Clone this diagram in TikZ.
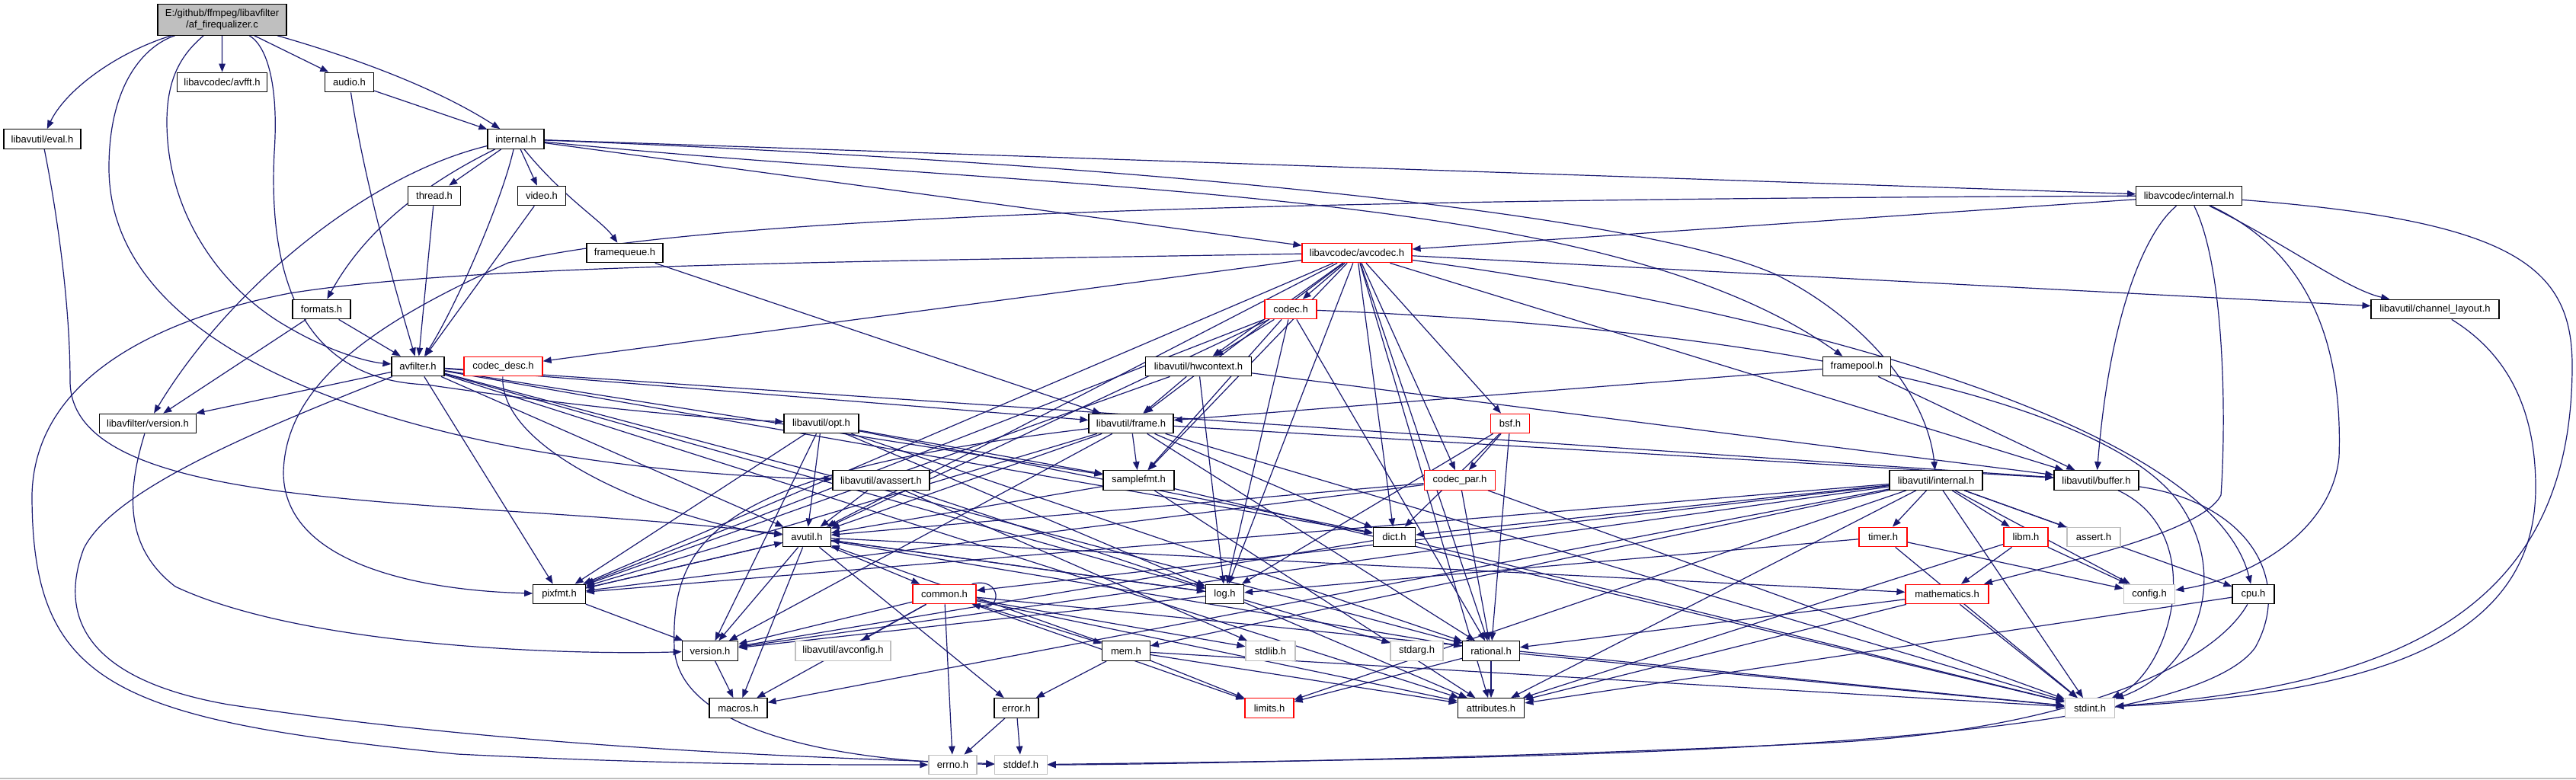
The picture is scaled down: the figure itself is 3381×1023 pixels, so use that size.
\documentclass[tikz,border=0pt]{standalone}
\usepackage{fontspec}
\setmainfont{Liberation Sans}
\usetikzlibrary{arrows.meta}
\pgfdeclarelayer{bg}
\pgfsetlayers{bg,main}
\definecolor{eblue}{HTML}{191970}
\definecolor{nred}{HTML}{FF0000}
\definecolor{ngray}{HTML}{BFBFBF}
\begin{document}
\begin{tikzpicture}[x=1pt,y=-1pt,
  font=\fontsize{13}{15}\selectfont,
  nb/.style={draw=black,line width=1.2pt,fill=white,minimum height=25.6pt,inner sep=0pt},
  nr/.style={nb,draw=nred},
  ng/.style={nb,draw=ngray},
  e/.style={draw=eblue,line width=1.2pt,-{Triangle[length=11pt,width=8.5pt]}}]
\useasboundingbox (0,0) rectangle (3381,1023);
% nodes
\node[nb,fill=ngray,align=center,minimum width=169pt,minimum height=40.3pt] (root) at (291.5,26) {E:/github/ffmpeg/libavfilter\\/af\_firequalizer.c};
\node[nb,minimum width=118pt] (avfft) at (291.6,108) {libavcodec/avfft.h};
\node[nb,minimum width=64pt] (audio) at (458.5,108) {audio.h};
\node[nb,minimum width=101pt] (eval) at (55.5,182.5) {libavutil/eval.h};
\node[nb,minimum width=74pt] (internal) at (677,182.5) {internal.h};
\node[nb,minimum width=69.5pt] (thread) at (570,257) {thread.h};
\node[nb,minimum width=62.5pt] (video) at (711,257) {video.h};
\node[nb,minimum width=138.6pt] (lavcint) at (2873,257) {libavcodec/internal.h};
\node[nb,minimum width=100pt] (fqueue) at (820,332) {framequeue.h};
\node[nr,minimum width=144pt] (avcodec) at (1781,332) {libavcodec/avcodec.h};
\node[nb,minimum width=76pt] (formats) at (422,406) {formats.h};
\node[nr,minimum width=68pt] (codec) at (1694,406) {codec.h};
\node[nb,minimum width=168pt] (chlayout) at (3196,406) {libavutil/channel\_layout.h};
\node[nb,minimum width=69pt] (avfilter) at (548.5,481) {avfilter.h};
\node[nr,minimum width=103pt] (cdesc) at (660.5,481) {codec\_desc.h};
\node[nb,minimum width=138.5pt] (hwctx) at (1573,481) {libavutil/hwcontext.h};
\node[nb,minimum width=89.5pt] (fpool) at (2437,481) {framepool.h};
\node[nb,minimum width=126.5pt] (lfver) at (194,556) {libavfilter/version.h};
\node[nb,minimum width=98pt] (opt) at (1078,556) {libavutil/opt.h};
\node[nb,minimum width=111pt] (frame) at (1484.5,556) {libavutil/frame.h};
\node[nr,minimum width=50.6pt] (bsf) at (1982,556) {bsf.h};
\node[nb,minimum width=127pt] (avassert) at (1156.5,630.5) {libavutil/avassert.h};
\node[nb,minimum width=93pt] (sfmt) at (1494.5,630.5) {samplefmt.h};
\node[nr,minimum width=93.6pt] (cpar) at (1916,630.5) {codec\_par.h};
\node[nb,minimum width=122pt] (luint) at (2541,630.5) {libavutil/internal.h};
\node[nb,minimum width=111pt] (buffer) at (2751.5,630.5) {libavutil/buffer.h};
\node[nb,minimum width=62.4pt] (avutil) at (1059,705) {avutil.h};
\node[nb,minimum width=55.3pt] (dict) at (1830,705) {dict.h};
\node[nr,minimum width=63pt] (timer) at (2471.5,705) {timer.h};
\node[nr,minimum width=58pt] (libm) at (2659,705) {libm.h};
\node[ng,minimum width=70pt] (assert) at (2748,705) {assert.h};
\node[nb,minimum width=68.5pt] (pixfmt) at (734,780) {pixfmt.h};
\node[nr,minimum width=83pt] (common) at (1239.5,780) {common.h};
\node[nb,minimum width=50pt] (log) at (1607.5,780) {log.h};
\node[nr,minimum width=109pt] (math) at (2555.5,780) {mathematics.h};
\node[ng,minimum width=67.4pt] (config) at (2821,780) {config.h};
\node[nb,minimum width=55pt] (cpu) at (2957.5,780) {cpu.h};
\node[nb,minimum width=73.6pt] (version) at (932,854.5) {version.h};
\node[ng,minimum width=125pt] (avconfig) at (1106.5,854.5) {libavutil/avconfig.h};
\node[nb,minimum width=62.5pt] (mem) at (1478,854.5) {mem.h};
\node[ng,minimum width=65pt] (stdlib) at (1667.5,854.5) {stdlib.h};
\node[ng,minimum width=69pt] (stdarg) at (1859.5,854.5) {stdarg.h};
\node[nb,minimum width=74.6pt] (rational) at (1957,854.5) {rational.h};
\node[nb,minimum width=76pt] (macros) at (969,929.5) {macros.h};
\node[nb,minimum width=58pt] (error) at (1334,929.5) {error.h};
\node[nr,minimum width=64pt] (limits) at (1666,929.5) {limits.h};
\node[nb,minimum width=87.6pt] (attrib) at (1957,929.5) {attributes.h};
\node[ng,minimum width=65.4pt] (stdint) at (2743,929.5) {stdint.h};
\node[ng,minimum width=63pt] (errno) at (1250.5,1004) {errno.h};
\node[ng,minimum width=68.3pt] (stddef) at (1340,1004) {stddef.h};
\draw[ngray,line width=2pt] (0,1022) -- (3381,1022);
\begin{pgfonlayer}{bg}
\fill[white] (0,0) rectangle (3381,1023);
% root
\draw[e] (root) .. controls (150,70) and (85,120) .. (eval);
\draw[e] (root) .. controls (190,60) and (143,110) .. (143,220) .. controls (143,520) and (700,620) .. (avassert);
\draw[e] (root) .. controls (350,60) and (366,110) .. (360,200) .. controls (350,400) and (420,500) .. (560,505) .. controls (800,540) and (950,550) .. (opt);
\draw[e] (root) -- (avfft);
\draw[e] (root) .. controls (240,70) and (219,100) .. (219,160) .. controls (219,280) and (290,380) .. (379,430) .. controls (430,460) and (480,475) .. (avfilter);
\draw[e] (root) -- (audio);
\draw[e] (root) .. controls (480,80) and (580,120) .. (internal);
% eval
\draw[e] (eval) .. controls (75,280) and (92,400) .. (92,500) .. controls (92,680) and (600,650) .. (avutil);
% audio
\draw[e] (audio) -- (internal);
\draw[e] (audio) .. controls (480,250) and (525,400) .. (avfilter);
% internal
\draw[e] (internal) -- (lavcint);
\draw[e] (internal) .. controls (1500,215) and (2150,280) .. (2330,360) .. controls (2450,420) and (2530,520) .. (luint);
\draw[e] (internal) .. controls (1400,255) and (2100,240) .. (fpool);
\draw[e] (internal) -- (avcodec);
\draw[e] (internal) -- (thread);
\draw[e] (internal) -- (video);
\draw[e] (internal) .. controls (740,260) and (790,290) .. (fqueue);
\draw[e] (internal) .. controls (560,240) and (480,300) .. (formats);
\draw[e] (internal) .. controls (480,230) and (300,380) .. (lfver);
\draw[e] (internal) .. controls (660,260) and (600,400) .. (avfilter);
% lavcint
\draw[e] (lavcint) -- (avcodec);
\draw[e] (lavcint) .. controls (3000,320) and (3080,380) .. (chlayout);
\draw[e] (lavcint) .. controls (2820,300) and (2770,400) .. (buffer);
\draw[e] (lavcint) .. controls (2920,350) and (2922,550) .. (2915,650) .. controls (2890,700) and (2700,740) .. (math);
\draw[e] (lavcint) .. controls (3030,330) and (3075,450) .. (3070,600) .. controls (3060,700) and (2950,760) .. (config);
\draw[e] (lavcint) .. controls (3300,290) and (3376,350) .. (3376,480) .. controls (3376,800) and (3150,900) .. (stdint);
\draw[e] (lavcint) .. controls (1500,262) and (900,290) .. (667,345) .. controls (500,420) and (375,500) .. (372,620) .. controls (372,740) and (550,775) .. (pixfmt);
% avcodec
\draw[e] (avcodec) .. controls (1000,345) and (600,350) .. (380,385) .. controls (200,420) and (45,500) .. (42,650) .. controls (42,900) and (150,945) .. (600,990) .. controls (900,1005) and (1100,1004) .. (errno);
\draw[e] (avcodec) -- (codec);
\draw[e] (avcodec) -- (cdesc);
\draw[e] (avcodec) -- (hwctx);
\draw[e] (avcodec) -- (frame);
\draw[e] (avcodec) -- (sfmt);
\draw[e] (avcodec) -- (avutil);
\draw[e] (avcodec) -- (bsf);
\draw[e] (avcodec) -- (cpar);
\draw[e] (avcodec) -- (dict);
\draw[e] (avcodec) -- (log);
\draw[e] (avcodec) -- (pixfmt);
\draw[e] (avcodec) -- (rational);
\draw[e] (avcodec) -- (attrib);
\draw[e] (avcodec) -- (buffer);
\draw[e] (avcodec) -- (chlayout);
\draw[e] (avcodec) .. controls (2300,400) and (2900,550) .. (cpu);
% codec
\draw[e] (codec) -- (hwctx);
\draw[e] (codec) -- (sfmt);
\draw[e] (codec) -- (avutil);
\draw[e] (codec) -- (log);
\draw[e] (codec) -- (pixfmt);
\draw[e] (codec) -- (rational);
\draw[e] (codec) .. controls (2300,430) and (2760,520) .. (2860,660) .. controls (2930,760) and (2880,880) .. (stdint);
% chlayout
\draw[e] (chlayout) .. controls (3300,470) and (3328,550) .. (3328,640) .. controls (3328,850) and (3100,910) .. (stdint);
% small ones
\draw[e] (formats) -- (avfilter);
\draw[e] (formats) -- (lfver);
\draw[e] (thread) -- (avfilter);
\draw[e] (video) -- (avfilter);
\draw[e] (fqueue) -- (frame);
% avfilter
\draw[e] (avfilter) -- (lfver);
\draw[e] (avfilter) .. controls (350,560) and (150,640) .. (110,720) .. controls (80,800) and (100,890) .. (300,925) .. controls (700,985) and (1100,995) .. (stddef);
\draw[e] (avfilter) -- (avutil);
\draw[e] (avfilter) -- (pixfmt);
\draw[e] (avfilter) -- (frame);
\draw[e] (avfilter) -- (sfmt);
\draw[e] (avfilter) -- (buffer);
\draw[e] (avfilter) -- (dict);
\draw[e] (avfilter) -- (log);
\draw[e] (avfilter) -- (rational);
\draw[e] (avfilter) -- (attrib);
% cdesc
\draw[e] (cdesc) .. controls (655,600) and (900,690) .. (avutil);
% hwctx
\draw[e] (hwctx) -- (frame);
\draw[e] (hwctx) -- (buffer);
\draw[e] (hwctx) -- (log);
\draw[e] (hwctx) -- (pixfmt);
% fpool
\draw[e] (fpool) -- (frame);
\draw[e] (fpool) -- (buffer);
% lfver
\draw[e] (lfver) .. controls (165,650) and (165,720) .. (230,770) .. controls (400,850) and (750,860) .. (version);
% opt
\draw[e] (opt) -- (avutil);
\draw[e] (opt) -- (sfmt);
\draw[e] (opt) -- (dict);
\draw[e] (opt) -- (log);
\draw[e] (opt) -- (pixfmt);
\draw[e] (opt) -- (rational);
\draw[e] (opt) -- (version);
% frame
\draw[e] (frame) -- (sfmt);
\draw[e] (frame) -- (avutil);
\draw[e] (frame) -- (buffer);
\draw[e] (frame) -- (dict);
\draw[e] (frame) -- (rational);
\draw[e] (frame) -- (pixfmt);
\draw[e] (frame) -- (version);
\draw[e] (frame) -- (stdint);
\draw[e] (frame) .. controls (950,620) and (880,700) .. (885,850) .. controls (890,960) and (1100,1000) .. (stddef);
% bsf
\draw[e] (bsf) -- (cpar);
\draw[e] (bsf) -- (dict);
\draw[e] (bsf) -- (log);
\draw[e] (bsf) -- (rational);
% avassert
\draw[e] (avassert) -- (avutil);
\draw[e] (avassert) -- (log);
\draw[e] (avassert) -- (stdlib);
% sfmt
\draw[e] (sfmt) -- (avutil);
\draw[e] (sfmt) -- (attrib);
\draw[e] (sfmt) -- (stdint);
% cpar
\draw[e] (cpar) -- (avutil);
\draw[e] (cpar) -- (rational);
\draw[e] (cpar) -- (pixfmt);
\draw[e] (cpar) -- (stdint);
% luint
\draw[e] (luint) -- (timer);
\draw[e] (luint) -- (libm);
\draw[e] (luint) -- (assert);
\draw[e] (luint) -- (config);
\draw[e] (luint) -- (cpu);
\draw[e] (luint) -- (stdint);
\draw[e] (luint) -- (dict);
\draw[e] (luint) -- (macros);
\draw[e] (luint) -- (mem);
\draw[e] (luint) -- (pixfmt);
\draw[e] (luint) -- (version);
\draw[e] (luint) -- (limits);
\draw[e] (luint) -- (attrib);
\draw[e] (luint) -- (common);
% buffer
\draw[e] (buffer) .. controls (2950,660) and (3010,760) .. (2960,850) .. controls (2860,990) and (2000,995) .. (stddef);
\draw[e] (buffer) .. controls (2900,700) and (2850,880) .. (stdint);
% avutil
\draw[e] (avutil) -- (common);
\draw[e] (avutil) -- (error);
\draw[e] (avutil) -- (rational);
\draw[e] (avutil) -- (version);
\draw[e] (avutil) -- (macros);
\draw[e] (avutil) -- (math);
\draw[e] (avutil) -- (log);
\draw[e] (avutil) -- (pixfmt);
% dict
\draw[e] (dict) -- (stdint);
\draw[e] (dict) -- (version);
% timer
\draw[e] (timer) -- (config);
\draw[e] (timer) -- (stdint);
\draw[e] (timer) -- (log);
% libm
\draw[e] (libm) -- (math);
\draw[e] (libm) -- (config);
\draw[e] (libm) -- (attrib);
% pixfmt
\draw[e] (pixfmt) -- (avutil);
\draw[e] (pixfmt) -- (version);
% common
\draw[e] (common) -- (errno);
\draw[e] (common) -- (limits);
\draw[e] (common) -- (stdint);
\draw[e] (common) -- (stdlib);
\draw[e] (common) -- (attrib);
\draw[e] (common) -- (macros);
\draw[e] (common) -- (version);
\draw[e] (common) -- (avconfig);
\draw[e] (common) -- (mem);
\draw[e] ([xshift=-6pt]common.north east) .. controls +(40pt,10pt) and +(40pt,-10pt) .. ([xshift=-6pt]common.south east);
% log
\draw[e] (log) -- (stdarg);
\draw[e] (log) -- (avutil);
\draw[e] (log) -- (attrib);
\draw[e] (log) -- (version);
% math
\draw[e] (math) -- (stdint);
\draw[e] (math) -- (attrib);
\draw[e] (math) -- (rational);
% cpu
\draw[e] (cpu) .. controls (2900,880) and (2700,960) .. (2400,975) .. controls (2000,995) and (1500,1004) .. (stddef);
\draw[e] (cpu) -- (attrib);
% version, mem, rational, error
\draw[e] (version) -- (macros);
\draw[e] (mem) -- (limits);
\draw[e] (mem) -- (stdint);
\draw[e] (mem) -- (attrib);
\draw[e] (mem) -- (error);
\draw[e] (mem) -- (avutil);
\draw[e] (rational) -- (stdint);
\draw[e] (rational) -- (limits);
\draw[e] (rational) -- (attrib);
\draw[e] (error) -- (errno);
\draw[e] (error) -- (stddef);
\end{pgfonlayer}
\end{tikzpicture}
\end{document}
